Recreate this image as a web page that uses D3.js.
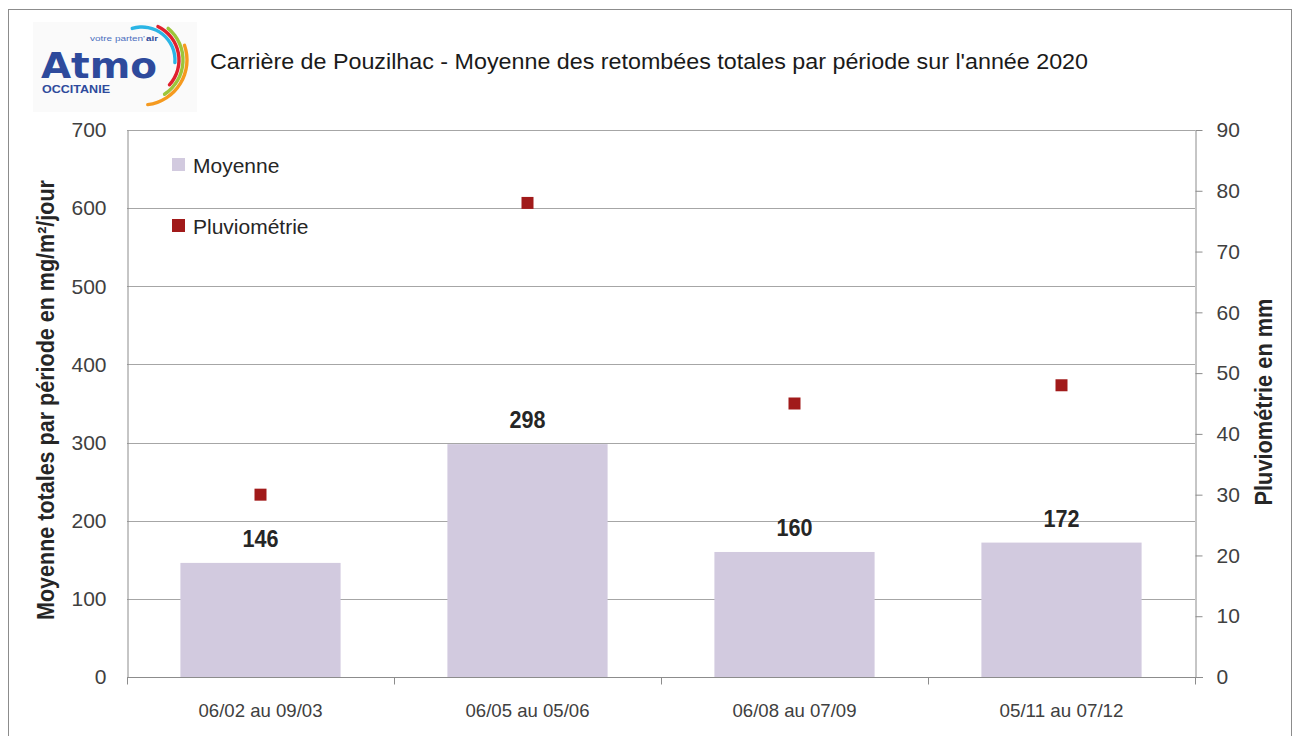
<!DOCTYPE html>
<html><head><meta charset="utf-8">
<script src="https://cdn.jsdelivr.net/npm/d3@7"></script>
<style>
body{margin:0;background:#fff;}
text{font-family:"Liberation Sans",Arial,sans-serif;}
</style></head>
<body><svg id="c" width="1294" height="736"></svg>
<script>
const categories = ["06/02 au 09/03","06/05 au 05/06","06/08 au 07/09","05/11 au 07/12"];
const moyenne = [146, 298, 160, 172];
const pluvio = [30, 78, 45, 48];
const leftTicks = [0,100,200,300,400,500,600,700];
const rightTicks = [0,10,20,30,40,50,60,70,80,90];
const title = "Carrière de Pouzilhac - Moyenne des retombées totales par période sur l'année 2020";
const seriesNames = ["Moyenne","Pluviométrie"];

const svg = d3.select("#c");
const m = {l:127, r:1195, t:130, b:677};

// border
svg.append("rect").attr("x",8.5).attr("y",9.5).attr("width",1283).attr("height",740)
  .attr("fill","#fff").attr("stroke","#8c8c8c").attr("stroke-width",1);

const x = d3.scaleBand().domain(categories).range([m.l,m.r]).paddingInner(0.4).paddingOuter(0.2);
const y = d3.scaleLinear().domain([0,700]).range([m.b,m.t]);
const y2 = d3.scaleLinear().domain([0,90]).range([m.b,m.t]);

// gridlines
svg.append("g").selectAll("line").data(leftTicks.filter(d=>d>0)).join("line")
  .attr("x1",m.l).attr("x2",m.r).attr("y1",d=>Math.round(y(d))+0.5).attr("y2",d=>Math.round(y(d))+0.5)
  .attr("stroke","#a6a6a6").attr("stroke-width",1);

// bars
svg.append("g").selectAll("rect").data(moyenne).join("rect")
  .attr("x",(d,i)=>x(categories[i])).attr("width",x.bandwidth())
  .attr("y",d=>y(d)).attr("height",d=>y(0)-y(d)).attr("fill","#d2cadf");

// bar labels
svg.append("g").selectAll("text").data(moyenne).join("text")
  .attr("x",(d,i)=>x(categories[i])+x.bandwidth()/2).attr("y",d=>y(d)-16)
  .attr("text-anchor","middle").attr("font-size",23).attr("font-weight","bold")
  .attr("textLength",36).attr("lengthAdjust","spacingAndGlyphs")
  .attr("fill","#262626").text(d=>d);

// markers
const ms=12;
svg.append("g").selectAll("rect").data(pluvio).join("rect")
  .attr("x",(d,i)=>x(categories[i])+x.bandwidth()/2-ms/2).attr("y",d=>y2(d)-ms/2)
  .attr("width",ms).attr("height",ms).attr("fill","#a11a1a");

// left axis
const gl = svg.append("g").attr("transform",`translate(${m.l+0.5},0)`)
  .call(d3.axisLeft(y).tickValues(leftTicks).tickSize(0).tickPadding(21));
gl.select(".domain").attr("stroke","#8c8c8c");
gl.selectAll("text").attr("font-size",21).attr("fill","#404040");

// right axis
const gr = svg.append("g").attr("transform",`translate(${m.r+0.5},0)`)
  .call(d3.axisRight(y2).tickValues(rightTicks).tickSizeInner(7).tickSizeOuter(0).tickPadding(14));
gr.select(".domain").attr("stroke","#8c8c8c");
gr.selectAll(".tick line").attr("stroke","#8c8c8c");
gr.selectAll("text").attr("font-size",21).attr("fill","#404040");

// bottom axis
const gb = svg.append("g").attr("transform",`translate(0,${m.b+0.5})`);
gb.append("line").attr("x1",m.l).attr("x2",m.r+8).attr("stroke","#8c8c8c");
const bounds = d3.range(categories.length+1).map(i=> i===0? m.l : (i===categories.length? m.r : (x(categories[i-1])+x(categories[i])+x.bandwidth())/2));
gb.selectAll("line.t").data(bounds).join("line").attr("class","t")
  .attr("x1",d=>Math.round(d)+0.5).attr("x2",d=>Math.round(d)+0.5).attr("y1",0).attr("y2",7).attr("stroke","#8c8c8c");
gb.selectAll("text").data(categories).join("text")
  .attr("x",d=>x(d)+x.bandwidth()/2).attr("y",39).attr("text-anchor","middle")
  .attr("font-size",19).attr("fill","#404040").attr("textLength",124).attr("lengthAdjust","spacingAndGlyphs").text(d=>d);

// axis titles
svg.append("text").attr("transform",`translate(54,400) rotate(-90)`).attr("text-anchor","middle")
  .attr("font-size",23).attr("font-weight","bold").attr("fill","#262626")
  .attr("textLength",440).attr("lengthAdjust","spacingAndGlyphs")
  .text("Moyenne totales par période en mg/m²/jour");
svg.append("text").attr("transform",`translate(1272,402) rotate(-90)`).attr("text-anchor","middle")
  .attr("font-size",23).attr("font-weight","bold").attr("fill","#262626")
  .attr("textLength",207).attr("lengthAdjust","spacingAndGlyphs")
  .text("Pluviométrie en mm");

// title
svg.append("text").attr("x",210).attr("y",69).attr("font-size",22).attr("fill","#1a1a1a")
  .attr("textLength",878).attr("lengthAdjust","spacingAndGlyphs").text(title);

// legend
const lg = svg.append("g");
[["#d2cadf",165],["#a11a1a",226]].forEach((c,i)=>{
  lg.append("rect").attr("x",172).attr("y",c[1]-7).attr("width",13).attr("height",13).attr("fill",c[0]);
  lg.append("text").attr("x",193).attr("y",c[1]+8).attr("font-size",21).attr("fill","#262626").text(seriesNames[i]);
});

// logo
const logo = svg.append("g");
logo.append("rect").attr("x",33).attr("y",22).attr("width",164).attr("height",90).attr("fill","#fafafa");
const cx=142,cy=60;
const arcDefs=[["#2bb5e5",33,-0.35,1.7],["#e0202e",37,0.4,2.35],["#9cc53a",41,0.65,2.6],["#f59a1f",45,1.2,3.05]];
arcDefs.forEach(a=>{
  logo.append("path").attr("transform",`translate(${cx},${cy})`)
    .attr("d",d3.arc().innerRadius(a[1]-1.7).outerRadius(a[1]+1.7).startAngle(a[2]).endAngle(a[3]).cornerRadius(1.6)())
    .attr("fill",a[0]);
});
logo.append("text").attr("x",41).attr("y",78).attr("font-size",36).attr("font-weight","bold")
  .attr("fill","#2e4a9c").style("font-family","'DejaVu Sans',sans-serif").attr("textLength",116).attr("lengthAdjust","spacingAndGlyphs").text("Atmo");
logo.append("text").attr("x",90).attr("y",41).attr("font-size",8).attr("fill","#4a6fc0")
  .attr("textLength",55).attr("lengthAdjust","spacingAndGlyphs").text("votre parten'");
logo.append("text").attr("x",146).attr("y",41).attr("font-size",8).attr("font-weight","bold").attr("fill","#2e4a9c")
  .attr("textLength",12).attr("lengthAdjust","spacingAndGlyphs").text("air");
logo.append("text").attr("x",42).attr("y",93).attr("font-size",10).attr("font-weight","bold").attr("fill","#2e4a9c")
  .attr("textLength",68).attr("lengthAdjust","spacingAndGlyphs").text("OCCITANIE");
</script></body></html>
